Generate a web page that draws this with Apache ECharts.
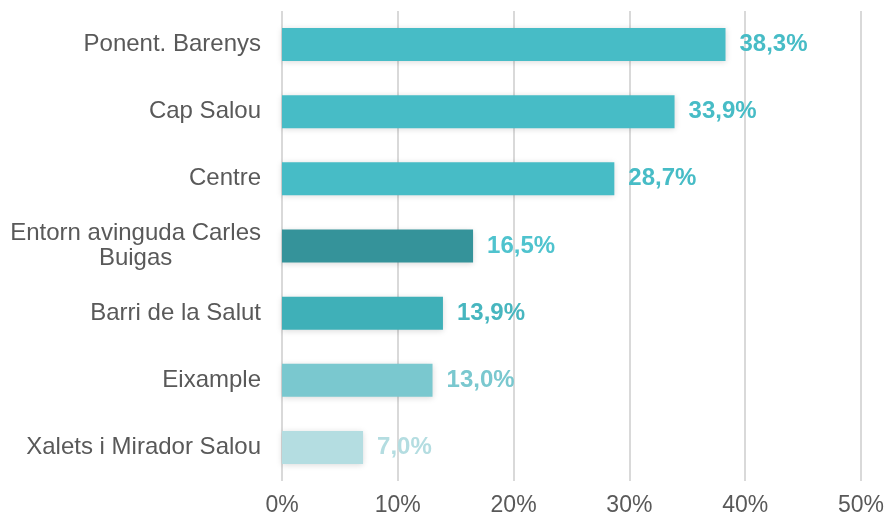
<!DOCTYPE html>
<html>
<head>
<meta charset="UTF-8">
<title>Barris</title>
<script src="https://cdn.jsdelivr.net/npm/echarts@6/dist/echarts.min.js"></script>
<style>
  html,body{margin:0;padding:0;background:#fff;}
</style>
</head>
<body>
<div id="main" style="width: 887px;height:519px;"></div>
<script>
// dades (de dalt a baix)
var barris = ['Ponent. Barenys', 'Cap Salou', 'Centre', 'Entorn avinguda Carles\nBuigas', 'Barri de la Salut', 'Eixample', 'Xalets i Mirador Salou'];
var valors = [38.3, 33.9, 28.7, 16.5, 13.9, 13.0, 7.0];
var colors = ['#47bcc6', '#47bcc6', '#47bcc6', '#35939a', '#3fb0b8', '#7ac8cf', '#b4dde1'];
var labelColors = ['#47bcc6', '#47bcc6', '#47bcc6', '#4fc3ce', '#47b6bf', '#7ac8cf', '#b4dde1'];
var ticks = [0, 10, 20, 30, 40, 50];

var myChart = echarts.init(document.getElementById('main'));

var data = [];
for (var i = 0; i < valors.length; i++) {
    data.push({
        value: valors[i],
        itemStyle: { color: colors[i] },
        label: { color: labelColors[i] }
    });
}

myChart.setOption({
    animation: false,
    grid: { left: 282, right: 25, top: 11, bottom: 38 },
    xAxis: {
        type: 'value',
        min: ticks[0],
        max: ticks[ticks.length - 1],
        interval: 10,
        axisLine: { show: false },
        axisTick: { show: false },
        splitLine: { lineStyle: { color: '#d9d9d9', width: 2 } },
        axisLabel: {
            formatter: '{value}%',
            color: '#595959',
            fontSize: 23,
            fontFamily: 'Liberation Sans',
            margin: 13
        }
    },
    yAxis: {
        type: 'category',
        inverse: true,
        data: barris,
        axisLine: { show: false },
        axisTick: { show: false },
        axisLabel: {
            color: '#595959',
            fontSize: 24,
            fontFamily: 'Liberation Sans',
            margin: 21,
            align: 'right',
            lineHeight: 25,
            // línies centrades dins l'etiqueta
            formatter: function (v) {
                return v.split('\n').map(function (s) { return '{c|' + s + '}'; }).join('\n');
            },
            rich: {
                c: {
                    align: 'center',
                    color: '#595959',
                    fontSize: 24,
                    fontFamily: 'Liberation Sans',
                    lineHeight: 25
                }
            }
        }
    },
    series: [{
        type: 'bar',
        data: data,
        barWidth: 33,
        itemStyle: {
            shadowColor: 'rgba(0,0,0,0.15)',
            shadowBlur: 6,
            shadowOffsetY: 1
        },
        label: {
            show: true,
            position: 'right',
            distance: 14,
            fontSize: 24,
            fontWeight: 'bold',
            fontFamily: 'Liberation Sans',
            formatter: function (p) { return p.value.toFixed(1).replace('.', ',') + '%'; }
        }
    }]
});
</script>
</body>
</html>
